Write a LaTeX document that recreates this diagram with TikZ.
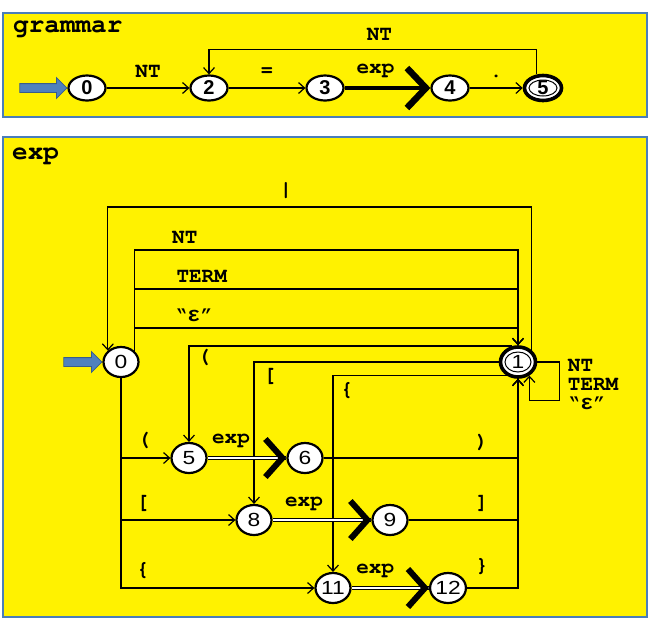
\documentclass[tikz,border=0pt]{standalone}
\usepackage[T1]{fontenc}
\usepackage{fontspec}
\usepackage{tikz}
\usetikzlibrary{shapes,arrows.meta,positioning,calc}
\newfontfamily\epsfont{Liberation Mono}
\newfontfamily\numfont{Liberation Sans}
\newfontfamily\numwidefont[FakeStretch=1.2]{Liberation Sans}
\newcommand\courierbf{\fontencoding{T1}\fontfamily{pcr}\fontseries{b}\selectfont}
\definecolor{panelblue}{RGB}{74,126,187}
\definecolor{arrowblue}{RGB}{79,129,189}
\definecolor{arrowedge}{RGB}{56,93,138}

\tikzset{
    panel/.style={draw=panelblue, line width=2pt, fill=yellow},
    title/.style={anchor=west, inner sep=0pt, font=\courierbf\fontsize{26}{26}\selectfont},
    lab/.style={inner sep=0pt, font=\courierbf\fontsize{21}{19}\selectfont},
    gstate/.style={ellipse, draw, fill=white, line width=2.2pt, minimum width=37pt, minimum height=25pt, inner sep=0pt, font=\numfont\bfseries\fontsize{20}{20}\selectfont},
    estate/.style={ellipse, draw, fill=white, line width=2.2pt, minimum width=35pt, minimum height=30pt, inner sep=0pt, font=\numwidefont\fontsize{19}{19}\selectfont},
    accept/.style={line width=3.6pt, path picture={\draw[line width=1pt] (path picture bounding box.center) ellipse (#1);}},
    inarrow/.style={single arrow, draw=arrowedge, fill=arrowblue, line width=0.8pt, inner sep=4pt, single arrow head extend=6pt, single arrow head indent=0pt, minimum height=#1, anchor=tip},
    arr/.style={line width=1.2pt, -{Straight Barb[length=6pt, width=11pt]}},
    bigarr/.style={line width=4.5pt, -{Straight Barb[length=19pt, width=40pt, line width=6.5pt]}},
    dblline/.style={double=white, double distance=2.4pt, line width=1.2pt},
    chevron/.style={draw=white, line width=0.4pt, -{Straight Barb[color=black, length=17pt, width=38pt, line width=6pt]}}
}
\newcommand\epsq{``{\epsfont\bfseries ε}''}

\begin{document}
\begin{tikzpicture}[x=1pt, y=-1pt]
    \useasboundingbox (0,0) rectangle (650,625);

    % grammar
    \draw[panel] (3,13) rectangle (647,117);
    \node[title] (gtitle) at (13,28) {grammar};

    \node[gstate] (g0) at (87,88) {0};
    \node[gstate] (g2) at (209,88) {2};
    \node[gstate] (g3) at (325,88) {3};
    \node[gstate] (g4) at (450,88) {4};
    \node[gstate, accept={14pt and 8pt}] (g5) at (543,88) {5};
    \node[inarrow=47pt] (gin) at (g0.west) {};

    \draw[arr] (g0) -- node[lab, yshift=16pt] {NT} (g2);
    \draw[arr] (g2) -- node[lab, yshift=16pt] {=} (g3);
    \draw[bigarr] (g3) -- node[lab, xshift=-12pt, yshift=18pt] {exp} (g4);
    \draw[arr] (g4) -- node[lab, yshift=12pt] {.} (g5);
    \draw[arr] (g5.115) |- node[lab, pos=0.74, yshift=15pt] {NT} ([yshift=25pt]g2.north) -- (g2.north);

    % exp
    \draw[panel] (3,137) rectangle (647,617);
    \node[title] (etitle) at (12,155) {exp};

    \node[estate] (e0) at (121,362) {0};
    \node[estate, accept={13pt and 10pt}] (e1) at (518,362) {1};
    \node[estate] (e5) at (189,458) {5};
    \node[estate] (e6) at (305,458) {6};
    \node[estate] (e8) at (254,520) {8};
    \node[estate] (e9) at (390,520) {9};
    \node[estate] (e11) at (333,588) {11};
    \node[estate] (e12) at (448,588) {12};
    \node[inarrow=38pt] (ein) at (e0.west) {};

    \coordinate (ybar) at (0,207);
    \coordinate (ynt) at (0,250);
    \coordinate (yterm) at (0,289);
    \coordinate (yeps) at (0,328);

    % 0 -> 1 and back
    \draw[arr] (e1.north east) |- node[lab, pos=0.79, yshift=17pt] {|} (e0.north west |- ybar) -- (e0.north west);
    \draw[arr] (e0.north east) |- node[lab, pos=0.566, yshift=12pt] {NT} (e1.north |- ynt) -- (e1.north);
    \draw[arr] (e0.north east) |- node[lab, pos=0.588, yshift=12pt] {TERM} (e1.north |- yterm) -- (e1.north);
    \draw[arr] (e0.north east) |- node[lab, pos=0.578, yshift=12pt] {\epsq} (e1.north |- yeps) -- (e1.north);

    % 1 -> 5, 8, 11
    \draw[arr] (e1.110) -| node[lab, xshift=15pt, yshift=-11pt] {(} (e5.north);
    \draw[arr] (e1.west) -| node[lab, xshift=16pt, yshift=-14pt] {[} (e8.north);
    \draw[arr] (e1.230) -| node[lab, xshift=14pt, yshift=-14pt] {\{} (e11.north);

    % 0 -> 5, 8, 11
    \draw[arr] (e0.south) |- node[lab, xshift=23pt, yshift=18pt] {(} (e5.west);
    \draw[arr] (e0.south) |- node[lab, xshift=22pt, yshift=17pt] {[} (e8.west);
    \draw[arr] (e0.south) |- node[lab, xshift=22pt, yshift=18pt] {\{} (e11.west);

    % exp calls
    \draw[dblline] (e5) -- node[lab, xshift=-16pt, yshift=18pt] {exp} (e6);
    \draw[chevron] (e5) -- (e6);
    \draw[dblline] (e8) -- node[lab, xshift=-18pt, yshift=17pt] {exp} (e9);
    \draw[chevron] (e8) -- (e9);
    \draw[dblline] (e11) -- node[lab, xshift=-15pt, yshift=18pt] {exp} (e12);
    \draw[chevron] (e11) -- (e12);

    % back to 1
    \draw[arr] (e6.east) -| node[lab, xshift=-36pt, yshift=16pt] {)} (e1.south);
    \draw[arr] (e9.east) -| node[lab, xshift=-36pt, yshift=17pt] {]} (e1.south);
    \draw[arr] (e12.east) -| node[lab, xshift=-36pt, yshift=22pt] {\}} (e1.south);
    \draw[arr] (e1.east) -- ++(22,0) node[lab, anchor=north west, align=left, xshift=8pt, yshift=3pt] {NT\\TERM\\\epsq} |- ([yshift=-25pt]e1.310) -- (e1.310);
\end{tikzpicture}
\end{document}
